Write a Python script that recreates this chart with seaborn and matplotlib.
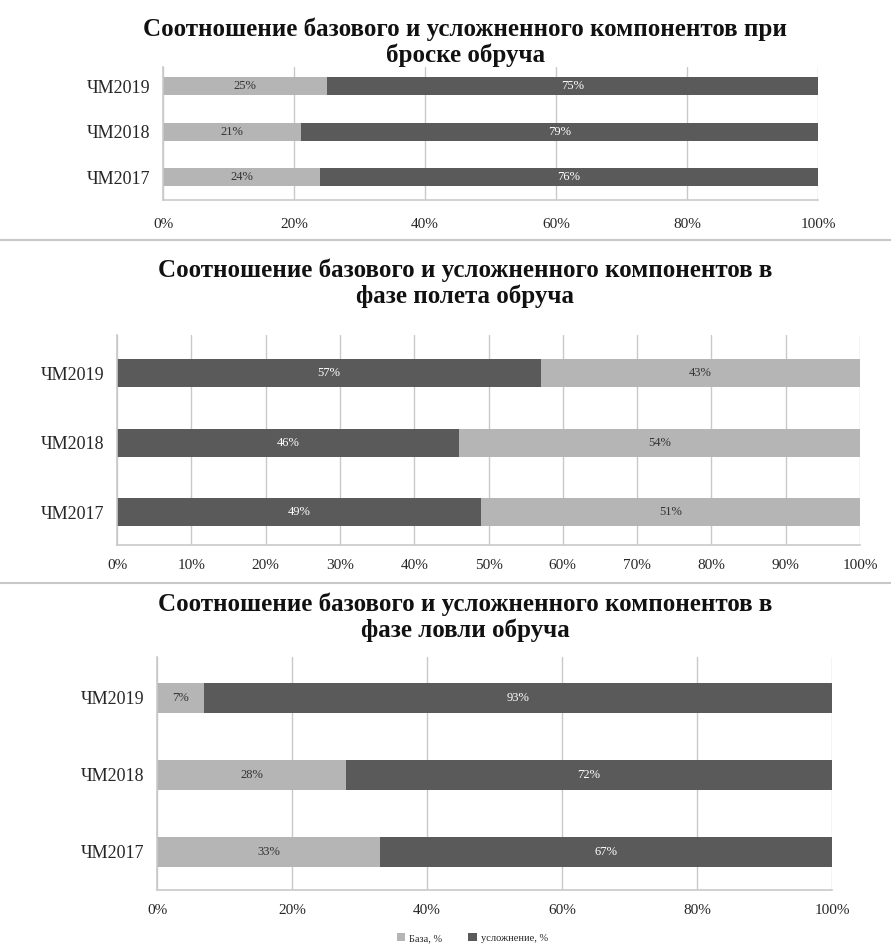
import matplotlib
matplotlib.use("Agg")
import matplotlib.pyplot as plt
import seaborn as sns
import pandas as pd
from matplotlib.lines import Line2D
from matplotlib.patches import Patch

# ---------------- data ----------------
categories = ["ЧМ2019", "ЧМ2018", "ЧМ2017"]

throw_base = [25, 21, 24]
throw_hard = [75, 79, 76]

flight_first = [57, 46, 49]
flight_second = [43, 54, 51]

catch_base = [7, 28, 33]
catch_hard = [93, 72, 67]

titles = [
    "Соотношение базового и усложненного компонентов при\nброске обруча",
    "Соотношение базового и усложненного компонентов в\nфазе полета обруча",
    "Соотношение базового и усложненного компонентов в\nфазе ловли обруча",
]
legend_labels = ["База, %", "усложнение, %"]

LIGHT = "#b5b5b5"
DARK = "#5a5a5a"
GRID = "#c9c9c9"
SERIF = "Liberation Serif"

sns.set_theme(style="white")
plt.rcParams["font.family"] = [SERIF, "DejaVu Serif"]

W, H = 891, 949
fig = plt.figure(figsize=(W / 100, H / 100), dpi=100)


def ax_rect(left, right, top, bottom):
    return [left / W, 1 - bottom / H, (right - left) / W, (bottom - top) / H]


def stacked(ax, first, second, c1, c2, tc1, tc2, step, ylim, width):
    df = pd.DataFrame({"cat": categories, "first": first,
                       "total": [a + b for a, b in zip(first, second)]})
    sns.barplot(data=df, y="cat", x="total", order=categories, color=c2,
                width=width, saturation=1, ax=ax, edgecolor="none", orient="h")
    sns.barplot(data=df, y="cat", x="first", order=categories, color=c1,
                width=width, saturation=1, ax=ax, edgecolor="none", orient="h")
    for i, (a, b) in enumerate(zip(first, second)):
        ax.text(a / 2, i, f"{a}%", ha="center", va="center", fontsize=9, color=tc1)
        ax.text(a + b / 2, i, f"{b}%", ha="center", va="center", fontsize=9, color=tc2)
    ax.set_xlim(0, 100)
    ax.set_ylim(*ylim)
    ax.set_xticks(list(range(0, 101, step)))
    ax.set_xticklabels([f"{t}%" for t in range(0, 101, step)], fontsize=11)
    ax.tick_params(axis="y", labelsize=13, length=0, pad=9)
    ax.tick_params(axis="x", length=0, pad=10)
    ax.set_xlabel("")
    ax.set_ylabel("")
    ax.set_axisbelow(True)
    ax.xaxis.grid(True, color=GRID, linewidth=1)
    for s in ["top", "right"]:
        ax.spines[s].set_visible(False)
    for s in ["left", "bottom"]:
        ax.spines[s].set_color(GRID)
        ax.spines[s].set_linewidth(1.2)


# panel 1
ax1 = fig.add_axes(ax_rect(163, 818, 67, 200))
stacked(ax1, throw_base, throw_hard, LIGHT, DARK, "#333333", "white", 20,
        (2.5, -0.42), 0.4)
ax1.tick_params(axis="x", pad=13)

# panel 2
ax2 = fig.add_axes(ax_rect(117, 860, 335, 545))
stacked(ax2, flight_first, flight_second, DARK, LIGHT, "white", "#333333", 10,
        (2.47, -0.55), 0.4)

# panel 3
ax3 = fig.add_axes(ax_rect(157, 832, 657, 890))
stacked(ax3, catch_base, catch_hard, LIGHT, DARK, "#333333", "white", 20,
        (2.5, -0.53), 0.39)

# titles
for y, t in zip([42, 283, 617], titles):
    fig.text(0.522, 1 - y / H, t, ha="center", va="center", fontsize=18,
             fontweight="bold", linespacing=1.15, color="#111111")

# separators
for y in [240, 583]:
    fig.add_artist(Line2D([0, 1], [1 - y / H, 1 - y / H], color="#c8c8c8",
                          linewidth=1.5, transform=fig.transFigure))

# legend
handles = [Patch(facecolor=LIGHT, edgecolor="none"),
           Patch(facecolor=DARK, edgecolor="none")]
fig.legend(handles, legend_labels, loc="center", bbox_to_anchor=(0.53, 1 - 938 / H),
           ncol=2, frameon=False, fontsize=7.5, handlelength=0.8, handleheight=0.8,
           columnspacing=2.5, handletextpad=0.4)

fig.savefig("out.png", dpi=100, facecolor="white")
